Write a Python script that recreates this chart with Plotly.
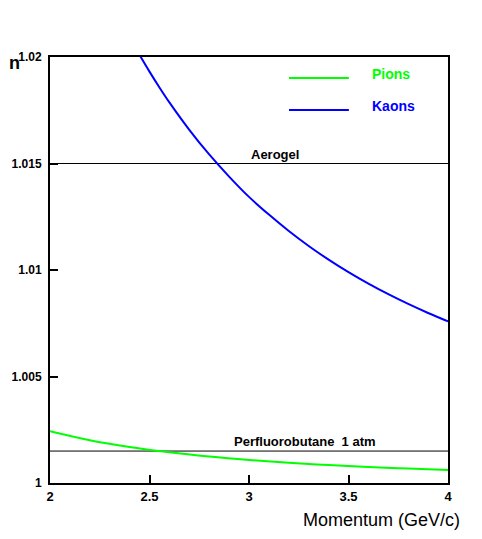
import plotly.graph_objects as go

# threshold refractive index vs momentum
pion_p = [2.0, 2.2, 2.4, 2.6, 2.8, 3.0, 3.2, 3.4, 3.6, 3.8, 4.0]
pion_n = [1.002433, 1.002011, 1.001690, 1.001440, 1.001242, 1.001082,
          1.000951, 1.000843, 1.000752, 1.000675, 1.000609]

kaon_p = [2.45, 2.5, 2.55, 2.6, 2.7, 2.8, 2.9, 3.0, 3.1, 3.2, 3.3, 3.4,
          3.5, 3.6, 3.7, 3.8, 3.9, 4.0]
kaon_n = [1.02010, 1.019313, 1.018571, 1.017867, 1.016580, 1.015426,
          1.014387, 1.013432, 1.012602, 1.011831, 1.011129, 1.010487,
          1.009899, 1.009360, 1.008864, 1.008405, 1.007981, 1.007588]

radiator_names = ["Aerogel", "Perfluorobutane  1 atm"]
radiator_n = [1.015, 1.0015]
radiator_label_x = [3.13, 3.28]

x_ticks = [2, 2.5, 3, 3.5, 4]
x_tick_text = ["2", "2.5", "3", "3.5", "4"]
y_ticks = [1.0, 1.005, 1.01, 1.015, 1.02]
y_tick_text = ["1", "1.005", "1.01", "1.015", "1.02"]

font = "Liberation Sans, Arial, Helvetica, sans-serif"

fig = go.Figure()

for name, n in zip(radiator_names, radiator_n):
    fig.add_trace(go.Scatter(x=[2, 4], y=[n, n], mode="lines",
                             line=dict(color="black", width=1),
                             showlegend=False, hoverinfo="skip"))

fig.add_trace(go.Scatter(x=pion_p, y=pion_n, mode="lines", name="Pions",
                         line=dict(color="#00ff00", width=2, shape="spline"),
                         showlegend=False))
fig.add_trace(go.Scatter(x=kaon_p, y=kaon_n, mode="lines", name="Kaons",
                         line=dict(color="#0000ff", width=2, shape="spline"),
                         showlegend=False))

for name, n, lx in zip(radiator_names, radiator_n, radiator_label_x):
    fig.add_annotation(x=lx, y=n, text=name, showarrow=False,
                       yanchor="bottom", yshift=0,
                       font=dict(family=font, size=13, color="black", weight="bold"))

# hand-drawn legend like the original
legend = [("Pions", "#00ff00", 0.9507, 0.960), ("Kaons", "#0000ff", 0.8756, 0.885)]
for name, color, ly, ty in legend:
    fig.add_shape(type="line", xref="paper", yref="paper",
                  x0=0.6005, x1=0.751, y0=ly, y1=ly,
                  line=dict(color=color, width=2))
    fig.add_annotation(xref="paper", yref="paper", x=0.804, y=ty, text=name,
                       showarrow=False, xanchor="left", yanchor="middle",
                       font=dict(family=font, size=14, color=color, weight="bold"))

fig.add_annotation(xref="paper", yref="paper", x=-0.1055, y=0.985, text="n",
                   showarrow=False, xanchor="left", yanchor="middle", borderpad=0,
                   font=dict(family=font, size=18, color="black", weight="bold"))
fig.add_annotation(xref="paper", yref="paper", x=1.035, y=-0.087,
                   text="Momentum (GeV/c)", showarrow=False,
                   xanchor="right", yanchor="middle",
                   font=dict(family=font, size=18, color="black"))

fig.update_xaxes(range=[2, 4], tickvals=x_ticks, ticktext=x_tick_text,
                 ticks="inside", ticklen=8, tickwidth=2, tickcolor="black",
                 showline=True, linewidth=2, linecolor="black", mirror=True,
                 showgrid=False, zeroline=False, automargin=False,
                 tickfont=dict(family=font, size=13, color="black", weight="bold"))
fig.update_yaxes(range=[1.0, 1.02], tickvals=y_ticks, ticktext=y_tick_text,
                 ticks="inside", ticklen=8, tickwidth=2, tickcolor="black",
                 showline=True, linewidth=2, linecolor="black", mirror=True,
                 showgrid=False, zeroline=False, ticklabelstandoff=4,
                 automargin=False,
                 tickfont=dict(family=font, size=12, color="black", weight="bold"))

# page has an 8px body margin, so the figure is a bit smaller than the window
fig.update_layout(width=474, height=531,
                  margin=dict(l=42, r=34, t=49, b=56),
                  plot_bgcolor="white", paper_bgcolor="white",
                  showlegend=False)

fig.write_html("out.html")
